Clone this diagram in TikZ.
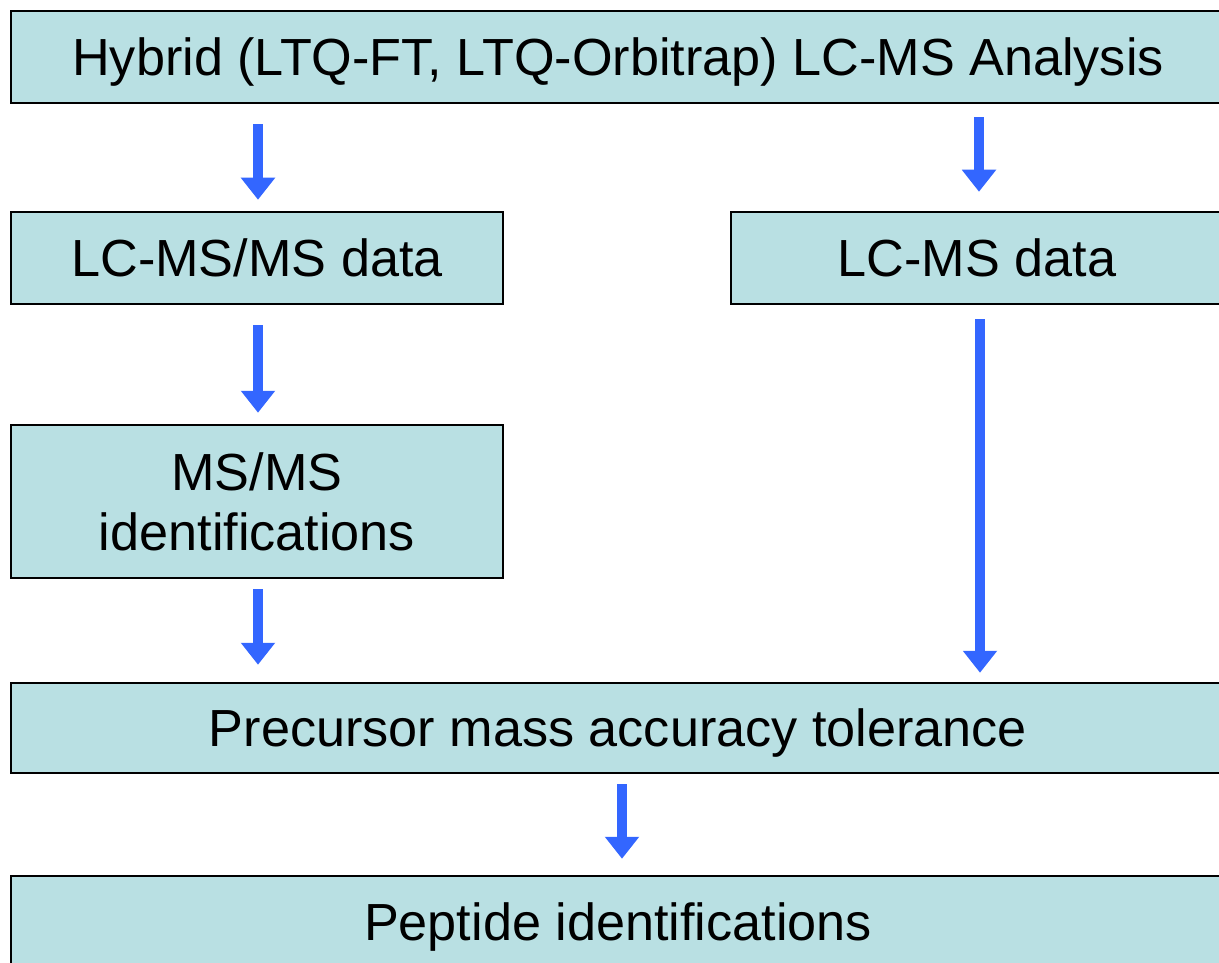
\documentclass[tikz,border=0pt]{standalone}
\usepackage{fontspec}
\setmainfont{Liberation Sans}
\usetikzlibrary{arrows.meta}
\definecolor{boxfill}{RGB}{185,224,227}
\definecolor{arrblue}{RGB}{51,102,255}
\tikzset{
  box/.style={draw=black, line width=2.5pt, fill=boxfill, inner sep=0pt,
    font=\fontsize{52.2}{60}\selectfont, align=center},
  oneline/.style={text height=37.4pt, text depth=0pt},
  arr/.style={draw=arrblue, line width=10pt,
    -{Triangle[width=33pt,length=22pt]}}
}
\begin{document}
\begin{tikzpicture}[x=1pt,y=-1pt]
\useasboundingbox (0,0) rectangle (1219,963);
\clip (0,0) rectangle (1219,963);
\node[box, oneline, minimum width=1214pt, minimum height=92pt] (top) at (618,57) {Hybrid (LTQ-FT, LTQ-Orbitrap) LC-MS Analysis};
\node[box, oneline, minimum width=492pt, minimum height=92pt] (lcmsms) at (257,258) {LC-MS/MS data};
\node[box, oneline, minimum width=492pt, minimum height=92pt] (lcms) at (977,258) {LC-MS data};
\node[box, minimum width=492pt, minimum height=153pt] (msms) at (257,501.5) {MS/MS\\identifications};
\node[box, oneline, minimum width=1214pt, minimum height=90pt] (prec) at (618,728) {Precursor mass accuracy tolerance};
\node[box, oneline, minimum width=1214pt, minimum height=92pt] (pep) at (618,922) {Peptide identifications};
\coordinate (cl) at (258,0);
\coordinate (cr) at (979,0);
\coordinate (cr2) at (980,0);
\coordinate (cm) at (622,0);
\draw[arr, shorten <=20pt, shorten >=11pt] (top.south -| cl) -- (lcmsms.north -| cl);
\draw[arr, shorten <=13pt, shorten >=19pt] (top.south -| cr) -- (lcms.north -| cr);
\draw[arr, shorten <=20pt, shorten >=11pt] (lcmsms.south -| cl) -- (msms.north -| cl);
\draw[arr, shorten <=10pt, shorten >=17pt] (msms.south -| cl) -- (prec.north -| cl);
\draw[arr, shorten <=14pt, shorten >=9pt] (lcms.south -| cr2) -- (prec.north -| cr2);
\draw[arr, shorten <=10pt, shorten >=16pt] (prec.south -| cm) -- (pep.north -| cm);
\end{tikzpicture}
\end{document}
